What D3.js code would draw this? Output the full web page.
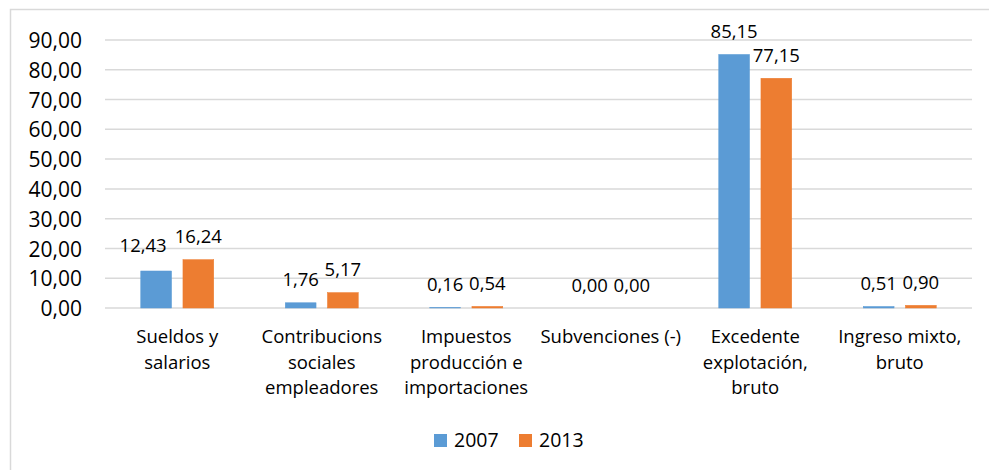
<!DOCTYPE html>
<html><head><meta charset="utf-8">
<script src="https://cdn.jsdelivr.net/npm/d3@7"></script>
<style>body{margin:0;background:#fff}svg{display:block}text{font-family:"Open Sans",sans-serif;fill:#000}</style>
</head><body>
<svg id="c" width="989" height="470"></svg>
<script>
const categories = [["Sueldos y","salarios"],["Contribucions","sociales","empleadores"],["Impuestos","producción e","importaciones"],["Subvenciones (-)"],["Excedente","explotación,","bruto"],["Ingreso mixto,","bruto"]];
const seriesNames = ["2007","2013"];
const values2007 = [12.43,1.76,0.16,0.00,85.15,0.51];
const values2013 = [16.24,5.17,0.54,0.00,77.15,0.90];
const yTicks = [0,10,20,30,40,50,60,70,80,90];
const colors = ["#5B9BD5","#ED7D31"];

const svg = d3.select("#c");
const fs = 18.5;
// chart border
svg.append("rect").attr("x",10.5).attr("y",9.5).attr("width",1000).attr("height",500)
  .attr("fill","none").attr("stroke","#d9d9d9").attr("stroke-width",1.5);

const x0 = d3.scaleBand().domain(d3.range(categories.length)).range([105,972]);
const x1 = d3.scaleBand().domain([0,1]).range([0,73]).paddingInner(0.27);
const y = d3.scaleLinear().domain([0,90]).range([308,40]);
const fmt = v => d3.format(".2f")(v).replace(".",",");

// gridlines
svg.append("g").selectAll("line").data(yTicks).join("line")
  .attr("x1",105).attr("x2",972).attr("y1",d=>y(d)).attr("y2",d=>y(d))
  .attr("stroke","#d9d9d9").attr("stroke-width",1.5);

// y axis labels
const yAxis = d3.axisLeft(y).tickValues(yTicks).tickFormat(fmt).tickSize(0).tickPadding(0);
const ga = svg.append("g").attr("transform","translate(82,0)").call(yAxis);
ga.select(".domain").remove();
ga.selectAll("text").attr("font-size",21).attr("font-family","'Open Sans',sans-serif").attr("fill","#000").attr("dy","0.36em");

// bars
const series = [values2007, values2013];
const offs = (x0.bandwidth()-73)/2;
series.forEach((vals,si)=>{
  const g = svg.append("g");
  g.selectAll("rect").data(vals).join("rect")
    .attr("x",(d,i)=>x0(i)+offs+x1(si))
    .attr("width",x1.bandwidth())
    .attr("y",d=>y(d))
    .attr("height",d=>Math.max(0,y(0)-y(d)))
    .attr("fill",colors[si])
    .attr("stroke",d=>d>0?colors[si]:"none").attr("stroke-width",0.5);
  g.selectAll("text").data(vals).join("text")
    .attr("x",(d,i)=>x0(i)+offs+x1(si)+x1.bandwidth()/2 + (si===0&&i===0?-13:0))
    .attr("y",(d,i)=>y(d)-16.5-(si===0&&i===0?2:0))
    .attr("text-anchor","middle").attr("font-size",fs)
    .text(d=>fmt(d));
});

// category labels
const gc = svg.append("g");
categories.forEach((lines,i)=>{
  const t = gc.append("text").attr("text-anchor","middle").attr("font-size",fs)
    .attr("x",x0(i)+x0.bandwidth()/2).attr("y",343);
  lines.forEach((l,j)=>t.append("tspan").attr("x",x0(i)+x0.bandwidth()/2).attr("y",343+j*25.7).text(l));
});

// legend
const lg = svg.append("g");
const lx = [434,519];
seriesNames.forEach((n,i)=>{
  lg.append("rect").attr("x",lx[i]).attr("y",434).attr("width",13).attr("height",13).attr("fill",colors[i]);
  lg.append("text").attr("x",lx[i]+20).attr("y",447).attr("font-size",fs+1).text(n);
});
</script>
</body></html>
